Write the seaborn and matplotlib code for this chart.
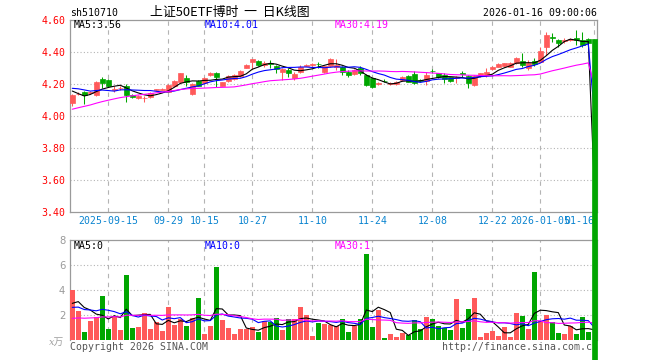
import matplotlib
matplotlib.use("Agg")
import numpy as np
import pandas as pd
import matplotlib.pyplot as plt
import seaborn as sns

# ---------------- data ----------------
holidays = ["2025-10-01", "2025-10-02", "2025-10-03", "2025-10-06", "2025-10-07",
            "2025-10-08", "2026-01-01", "2026-01-02"]
trade_days = pd.bdate_range("2025-09-05", "2026-01-16", freq="C", holidays=holidays)

tick_dates = ["2025-09-15", "2025-09-29", "2025-10-15", "2025-10-27", "2025-11-10",
              "2025-11-24", "2025-12-08", "2025-12-22", "2026-01-05", "2026-01-16"]
tick_labels = ["2025-09-15", "09-29", "10-15", "10-27", "11-10",
               "11-24", "12-08", "12-22", "2026-01-05", "01-16"]

opens = [4.08, 4.135, 4.15, 4.145, 4.13, 4.23, 4.225, 4.165, 4.172, 4.19,
         4.13, 4.11, 4.11, 4.117, 4.163, 4.165, 4.152, 4.19, 4.215, 4.24,
         4.135, 4.221, 4.204, 4.256, 4.271, 4.19, 4.221, 4.229, 4.25, 4.302,
         4.34, 4.346, 4.319, 4.33, 4.312, 4.277, 4.2875, 4.235, 4.277, 4.315,
         4.32, 4.327, 4.277, 4.312, 4.304, 4.308, 4.277, 4.2625, 4.298, 4.256,
         4.235, 4.2, 4.221, 4.2, 4.2, 4.225, 4.25, 4.2625, 4.223, 4.221,
         4.283, 4.267, 4.256, 4.242, 4.238, 4.269, 4.25, 4.194, 4.25, 4.256,
         4.292, 4.308, 4.3125, 4.308, 4.329, 4.344, 4.298, 4.346, 4.34, 4.433,
         4.496, 4.475, 4.47, 4.478, 4.485, 4.475, 4.479, 4.479]
highs = [4.135, 4.15, 4.155, 4.155, 4.22, 4.242, 4.23, 4.188, 4.19, 4.198,
         4.135, 4.13, 4.125, 4.15, 4.17, 4.175, 4.2, 4.225, 4.27, 4.256,
         4.205, 4.228, 4.245, 4.275, 4.275, 4.215, 4.255, 4.26, 4.285, 4.322,
         4.358, 4.35, 4.346, 4.35, 4.318, 4.298, 4.298, 4.277, 4.319, 4.325,
         4.33, 4.34, 4.315, 4.36, 4.354, 4.315, 4.2875, 4.292, 4.312, 4.26,
         4.24, 4.21, 4.23, 4.212, 4.22, 4.25, 4.255, 4.281, 4.23, 4.277,
         4.292, 4.27, 4.267, 4.245, 4.248, 4.283, 4.255, 4.255, 4.27, 4.298,
         4.312, 4.33, 4.333, 4.335, 4.371, 4.392, 4.35, 4.36, 4.433, 4.527,
         4.517, 4.48, 4.49, 4.49, 4.5375, 4.527, 4.485, 4.48]
lows = [4.065, 4.13, 4.073, 4.14, 4.125, 4.173, 4.18, 4.152, 4.165, 4.085,
        4.11, 4.105, 4.085, 4.11, 4.155, 4.16, 4.15, 4.185, 4.21, 4.19,
        4.13, 4.185, 4.2, 4.25, 4.183, 4.185, 4.215, 4.225, 4.245, 4.298,
        4.292, 4.31, 4.308, 4.298, 4.267, 4.225, 4.246, 4.225, 4.267, 4.31,
        4.315, 4.298, 4.27, 4.305, 4.29, 4.256, 4.246, 4.256, 4.256, 4.19,
        4.173, 4.195, 4.21, 4.195, 4.195, 4.22, 4.21, 4.2, 4.212, 4.194,
        4.267, 4.24, 4.208, 4.21, 4.208, 4.246, 4.177, 4.19, 4.245, 4.246,
        4.288, 4.304, 4.308, 4.304, 4.325, 4.308, 4.2875, 4.315, 4.335, 4.381,
        4.465, 4.433, 4.454, 4.47, 4.444, 4.433, 4.45, 0.0]
closes = [4.13, 4.14, 4.13, 4.148, 4.215, 4.208, 4.19, 4.17, 4.178, 4.13,
          4.118, 4.125, 4.112, 4.146, 4.167, 4.169, 4.194, 4.221, 4.267, 4.215,
          4.20, 4.19, 4.24, 4.271, 4.242, 4.21, 4.252, 4.256, 4.281, 4.319,
          4.354, 4.319, 4.333, 4.322, 4.292, 4.292, 4.267, 4.26, 4.304, 4.319,
          4.325, 4.323, 4.312, 4.354, 4.319, 4.277, 4.256, 4.2875, 4.267, 4.194,
          4.183, 4.204, 4.217, 4.204, 4.215, 4.246, 4.215, 4.204, 4.219, 4.256,
          4.279, 4.246, 4.232, 4.217, 4.242, 4.265, 4.204, 4.25, 4.267, 4.277,
          4.308, 4.325, 4.329, 4.329, 4.36, 4.319, 4.329, 4.325, 4.406, 4.506,
          4.485, 4.454, 4.475, 4.481, 4.475, 4.444, 4.454, 0.0]
# closes before the visible window (needed for the moving averages)
prior_closes = [3.86, 3.87, 3.89, 3.88, 3.91, 3.93, 3.92, 3.94, 3.96, 3.95,
                3.97, 3.99, 4.02, 4.01, 4.04, 4.06, 4.05, 4.08, 4.10, 4.11,
                4.17, 4.20, 4.22, 4.18, 4.18, 4.22, 4.205, 4.10, 4.125]

volumes = [4.0, 2.32, 0.64, 1.55, 1.84, 3.52, 0.88, 1.92, 0.8, 5.2,
           0.96, 1.04, 2.16, 0.88, 1.44, 0.72, 2.64, 1.2, 1.68, 1.12,
           1.76, 3.36, 0.48, 1.12, 5.84, 1.6, 0.96, 0.48, 0.88, 0.88,
           1.04, 0.64, 1.52, 1.44, 1.76, 0.8, 1.68, 1.68, 2.64, 2.0,
           0.32, 1.36, 1.28, 1.2, 1.12, 1.68, 0.64, 1.12, 1.68, 6.88,
           1.04, 2.4, 0.16, 0.48, 0.24, 0.56, 0.4, 1.6, 0.88, 1.84,
           1.68, 1.12, 0.96, 0.8, 3.28, 0.96, 2.48, 3.36, 0.24, 0.56,
           0.72, 0.32, 1.04, 0.24, 2.16, 1.92, 0.88, 5.44, 1.52, 2.0,
           1.44, 0.56, 0.48, 1.12, 0.48, 1.84, 0.64, 0.0]
prior_volumes = [1.1, 1.4, 0.9, 1.2, 1.6, 1.0, 1.3, 1.5, 1.1, 0.9,
                 1.4, 1.2, 1.7, 1.3, 1.0, 1.5, 1.2, 1.6, 1.4, 1.4,
                 2.1, 2.6, 1.9, 2.5, 2.34, 1.62, 3.0, 2.55, 3.49]

price_ticks = [3.40, 3.60, 3.80, 4.00, 4.20, 4.40, 4.60]
vol_ticks = [2, 4, 6, 8]

title_code = "sh510710"
title_name = "上证50ETF博时  一  日K线图"
title_time = "2026-01-16 09:00:06"
price_ma_labels = ["MA5:3.56", "MA10:4.01", "MA30:4.19"]
vol_ma_labels = ["MA5:0", "MA10:0", "MA30:1"]
vol_unit = "x万"
copyright_text = "Copyright 2026 SINA.COM"
url_text = "http://finance.sina.com.cn"

# ---------------- styling ----------------
sns.set_style("white")
plt.rcParams['font.family'] = ['DejaVu Sans Mono', 'Noto Sans CJK SC']
MONO = 7.1
RED = "#FF5A5A"
GREEN = "#00A600"
GRID = "#b4b4b4"
SPINE = "#9a9a9a"
MA_COLORS = ["black", "#0000FF", "#FF00FF"]

n = len(closes)
x = np.arange(n)
o = np.array(opens); h = np.array(highs); l = np.array(lows); c = np.array(closes)
up = c >= o
colors = np.where(up, RED, GREEN)

full_c = pd.Series(prior_closes + closes)
full_v = pd.Series(prior_volumes + volumes)
ma_p = [full_c.rolling(k).mean().to_numpy()[-n:] for k in (5, 10, 30)]
ma_v = [full_v.rolling(k).mean().to_numpy()[-n:] for k in (5, 10, 30)]

tick_pos = [trade_days.get_loc(pd.Timestamp(d)) for d in tick_dates]

W, H = 660, 360
fig = plt.figure(figsize=(W / 100, H / 100), dpi=100)
fx = lambda px: px / W
fy = lambda py: 1 - py / H

ax = fig.add_axes([fx(70), fy(212), fx(597) - fx(70), fy(20) - fy(212)])
axv = fig.add_axes([fx(70), fy(340), fx(597) - fx(70), fy(240) - fy(340)])
ax.set_zorder(2)
axv.set_zorder(1)

xlim = (-0.38, n - 0.55)

# ---- price panel ----
ax.vlines(x[:-1], l[:-1], h[:-1], colors=colors[:-1], lw=0.75, zorder=3)
bars = ax.bar(x, np.abs(c - o), bottom=np.minimum(o, c), width=0.74,
              color=colors, edgecolor=colors, linewidth=0.5, zorder=3)
bars[-1].set_clip_on(False)
bars[-1].set_zorder(6)
for ma, col in zip(ma_p, MA_COLORS):
    sns.lineplot(x=x, y=ma, ax=ax, color=col, lw=0.8, zorder=4)

ax.set_xlim(*xlim)
ax.set_ylim(3.40, 4.60)
ax.set_yticks(price_ticks)
ax.set_yticklabels([f"{v:.2f}" for v in price_ticks])
ax.set_xticks(tick_pos)
ax.set_xticklabels(tick_labels)
ax.xaxis.get_majorticklabels()[-1].set_ha("right")
ax.tick_params(axis="y", length=0, pad=3.2, labelsize=MONO, labelcolor="#FF0000")
ax.tick_params(axis="x", length=0, pad=3.0, labelsize=MONO, labelcolor="#0A84D0")
for yv in price_ticks[1:-1]:
    ax.axhline(yv, color=GRID, lw=0.8, ls=(0, (1, 2)), zorder=1)
for xv in tick_pos:
    ax.axvline(xv, color=GRID, lw=0.8, ls=(0, (4, 4)), zorder=1)
for s in ax.spines.values():
    s.set_color(SPINE); s.set_linewidth(0.9)
ax.set_xlabel(""); ax.set_ylabel("")

# ---- volume panel ----
axv.bar(x, volumes, width=0.78, color=colors, linewidth=0, zorder=3)
for ma, col in zip(ma_v, MA_COLORS):
    sns.lineplot(x=x, y=ma, ax=axv, color=col, lw=0.8, zorder=4)
axv.set_xlim(*xlim)
axv.set_ylim(0, 8)
axv.set_yticks(vol_ticks)
axv.set_yticklabels([str(v) for v in vol_ticks], family="DejaVu Sans")
axv.set_xticks(tick_pos)
axv.set_xticklabels([])
axv.tick_params(axis="y", length=0, pad=3.5, labelsize=7.2, labelcolor="#9a9a9a")
axv.tick_params(axis="x", length=0)
for yv in vol_ticks[:-1]:
    axv.axhline(yv, color=GRID, lw=0.8, ls=(0, (1, 2)), zorder=1)
for xv in tick_pos:
    axv.axvline(xv, color=GRID, lw=0.8, ls=(0, (4, 4)), zorder=1)
for k, s in axv.spines.items():
    s.set_color(SPINE); s.set_linewidth(0.9)
axv.spines["bottom"].set_visible(False)
axv.set_xlabel(""); axv.set_ylabel("")

# ---- texts ----
fig.text(fx(70), fy(13.5), title_code, ha="left", va="center", fontsize=MONO, color="black")
fig.text(fx(230), fy(12.5), title_name, ha="center", va="center", fontsize=9.3,
         color="black", family=["Noto Sans CJK SC", "DejaVu Sans"])
fig.text(fx(597), fy(13.5), title_time, ha="right", va="center", fontsize=MONO, color="black")
for lab, px, col in zip(price_ma_labels, (74, 205, 335), MA_COLORS):
    fig.text(fx(px), fy(25.5), lab, ha="left", va="center", fontsize=MONO, color=col, zorder=5)
for lab, px, col in zip(vol_ma_labels, (74, 205, 335), MA_COLORS):
    fig.text(fx(px), fy(246), lab, ha="left", va="center", fontsize=MONO, color=col, zorder=5)
fig.text(fx(64), fy(342), vol_unit, ha="right", va="center", fontsize=7, color="#a0a0a0",
         style="italic", family=["DejaVu Serif", "Noto Sans CJK SC"])
fig.text(fx(70), fy(346.5), copyright_text, ha="left", va="center", fontsize=MONO,
         color="#555555", zorder=1.5)
fig.text(fx(442), fy(346.5), url_text, ha="left", va="center", fontsize=MONO,
         color="#555555", zorder=1.5)
# watermark
fig.text(fx(580), fy(199), "sina", ha="center", va="center", fontsize=11, color="#c4c4c4",
         style="italic", weight="bold", family="DejaVu Sans", zorder=1.5)
fig.text(fx(579), fy(183), "◎", ha="center", va="center", fontsize=8, color="#f2a8a8",
         family="DejaVu Sans", zorder=1.5)

fig.savefig("out.png", dpi=100)
